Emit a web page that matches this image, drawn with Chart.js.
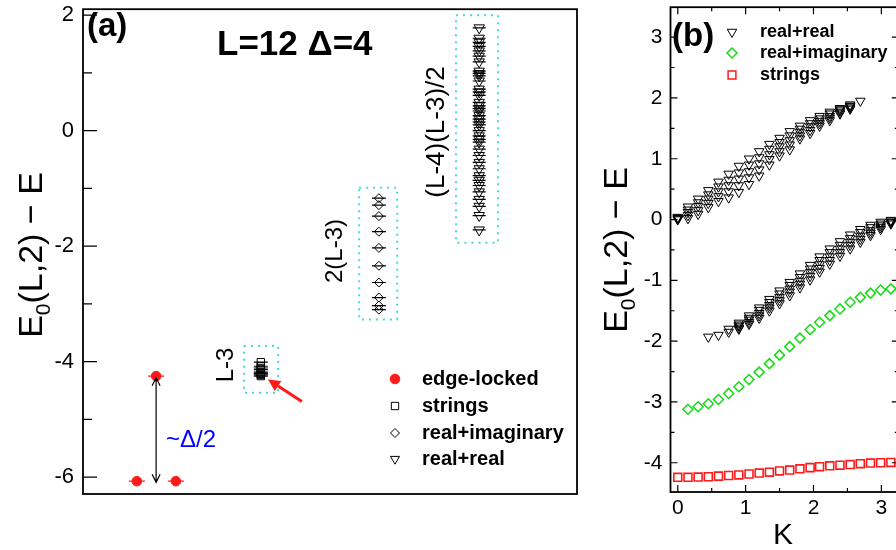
<!DOCTYPE html>
<html>
<head>
<meta charset="utf-8">
<title>E0(L,2) − E spectrum</title>
<script src="https://cdn.jsdelivr.net/npm/chart.js@4.4.1/dist/chart.umd.min.js"></script>
<style>
  html, body { margin:0; padding:0; background:#ffffff; overflow:hidden; width:896px; height:550px; position:relative; }
  canvas { position:absolute; top:0; }
  #ca { left:0; }
  #cb { left:600px; }
</style>
</head>
<body>
<canvas id="ca" width="600" height="550"></canvas>
<canvas id="cb" width="306" height="550"></canvas>
<script>
// ================= DATA =================
// Panel (a): L=12, Δ=4 — energies E0(L,2) − E grouped by family
const edgeLockedE = [-6.07, -4.25, -6.07];
const stringsE_a  = [-4.01, -4.08, -4.11, -4.14, -4.18, -4.20, -4.21, -4.23, -4.25];
const realImagE_a = [-1.17, -1.29, -1.48, -1.75, -2.03, -2.34, -2.63, -2.89, -3.03, -3.10];
const realRealE_a = [1.78, 1.60, 1.53, 1.46, 1.38, 1.29, 1.19, 1.03, 0.99, 0.95, 0.86, 0.72, 0.67, 0.61,
                     0.49, 0.43, 0.38, 0.34, 0.26, 0.20, 0.15, 0.10, 0.00, -0.09, -0.15, -0.20, -0.32,
                     -0.43, -0.55, -0.66, -0.78, -0.86, -0.95, -1.06, -1.19, -1.31, -1.47, -1.72];
const yTicksA = [2, 0, -2, -4, -6];
const yMinorA = [1, -1, -3, -5];

// Panel (b): momentum K and energies per family
const K = [0, 0.15, 0.30, 0.45, 0.60, 0.75, 0.90, 1.05, 1.20, 1.35, 1.50, 1.65, 1.80, 1.95, 2.09,
           2.24, 2.39, 2.54, 2.69, 2.84, 2.99, 3.14];
const stringsB = [-4.24, -4.24, -4.235, -4.23, -4.22, -4.21, -4.20, -4.185, -4.17, -4.155, -4.135,
                  -4.12, -4.10, -4.08, -4.065, -4.05, -4.04, -4.03, -4.015, -4.005, -4.0, -3.995];
const realImagB = [null, -3.12, -3.08, -3.03, -2.96, -2.86, -2.75, -2.63, -2.51, -2.37, -2.23, -2.09,
                   -1.95, -1.81, -1.69, -1.58, -1.47, -1.36, -1.28, -1.21, -1.16, -1.14];
// real+real: upper band (5 stacked levels) and lower band (5 stacked levels)
const rrUpper1 = [0.04, 0.21, 0.34, 0.48, 0.62, 0.75, 0.88, 1.00, 1.12, 1.24, 1.34, 1.45, 1.54, 1.63, 1.70, 1.77, 1.83, 1.89, 1.95];
const rrUpper2 = [0.03, 0.16, 0.28, 0.41, 0.54, 0.65, 0.77, 0.90, 1.02, 1.16, 1.27, 1.38, 1.49, 1.58, 1.66, 1.74, 1.81, 1.87];
const rrUpper3 = [0.02, 0.12, 0.22, 0.34, 0.46, 0.56, 0.67, 0.79, 0.92, 1.07, 1.20, 1.30, 1.44, 1.53, 1.62, 1.70, 1.79, 1.86];
const rrUpper4 = [0.01, 0.07, 0.15, 0.27, 0.38, 0.46, 0.56, 0.69, 0.82, 0.99, 1.12, 1.23, 1.38, 1.47, 1.58, 1.67, 1.76, 1.84];
const rrUpper5 = [0.00, 0.02, 0.09, 0.20, 0.30, 0.36, 0.45, 0.58, 0.72, 0.90, 1.05, 1.15, 1.33, 1.42, 1.54, 1.63, 1.74, 1.82];
const rrLower1 = [null, null, null, -1.93, -1.90, -1.80, -1.70, -1.58, -1.45, -1.31, -1.17, -1.03, -0.89, -0.75, -0.61, -0.48, -0.36, -0.25, -0.16, -0.09, -0.04, -0.01];
const rrLower2 = [null, null, null, null, null, null, -1.73, -1.62, -1.49, -1.36, -1.22, -1.08, -0.95, -0.81, -0.67, -0.54, -0.42, -0.31, -0.21, -0.13, -0.07, -0.02];
const rrLower3 = [null, null, null, null, null, null, -1.75, -1.65, -1.54, -1.41, -1.28, -1.14, -1.01, -0.87, -0.74, -0.61, -0.48, -0.37, -0.27, -0.18, -0.10, -0.04];
const rrLower4 = [null, null, null, null, null, null, -1.78, -1.69, -1.58, -1.45, -1.33, -1.19, -1.06, -0.93, -0.80, -0.67, -0.54, -0.42, -0.32, -0.22, -0.13, -0.05];
const rrLower5 = [null, null, null, null, null, -1.85, -1.80, -1.72, -1.62, -1.50, -1.38, -1.25, -1.12, -0.99, -0.86, -0.73, -0.60, -0.48, -0.37, -0.26, -0.16, -0.07];
const xTicksB = [0, 1, 2, 3];
const yTicksB = [-4, -3, -2, -1, 0, 1, 2, 3];
const xMinorB = [0.5, 1.5, 2.5];
const yMinorB = [-3.5, -2.5, -1.5, -0.5, 0.5, 1.5, 2.5];

// ================= LAYOUT / STYLE =================
const FONT = '"Liberation Sans", Arial, Helvetica, sans-serif';
const CYAN = 'rgb(64,224,208)';
const GREEN = '#16dc16';
const RED = '#ff1a1a';
// column placement in panel (a) (abstract x units 0..100)
const colX = { edge: [10.9, 14.8, 18.8], strings: 36.0, imag: 59.9, real: 80.2 };
const boxesA = [[32.6, 39.5, -3.73, -4.54], [55.9, 63.6, -0.99, -3.27], [75.5, 84.0, 2.0, -1.94]];

const col = (x, ys) => ys.map(y => ({ x, y }));
const pts = (xs, ys) => ys.map((y, i) => (y === null || y === undefined) ? null : { x: xs[i], y }).filter(p => p);
const rect = b => [{x:b[0],y:b[2]},{x:b[1],y:b[2]},{x:b[1],y:b[3]},{x:b[0],y:b[3]},{x:b[0],y:b[2]}];

function txt(ctx, s, x, y, o) {
  ctx.save();
  ctx.font = o.font; ctx.fillStyle = o.color || '#000';
  ctx.textAlign = o.align || 'left'; ctx.textBaseline = o.baseline || 'alphabetic';
  ctx.translate(x, y); if (o.rot) ctx.rotate(o.rot);
  ctx.fillText(s, 0, 0); ctx.restore();
}
function yTitle(ctx, cx, cy, size) {
  ctx.save(); ctx.translate(cx, cy); ctx.rotate(-Math.PI / 2);
  ctx.fillStyle = '#000'; ctx.textBaseline = 'middle'; ctx.textAlign = 'left';
  const big = size + 'px ' + FONT, small = Math.round(size * 0.62) + 'px ' + FONT;
  const rest = '(L,2) \u2212 E';
  ctx.font = big; const wE = ctx.measureText('E').width; const wR = ctx.measureText(rest).width;
  ctx.font = small; const w0 = ctx.measureText('0').width;
  let x = -(wE + w0 + wR) / 2;
  ctx.font = big; ctx.fillText('E', x, 0); x += wE;
  ctx.font = small; ctx.fillText('0', x, size * 0.33); x += w0;
  ctx.font = big; ctx.fillText(rest, x, 0);
  ctx.restore();
}
function tickMarks(ctx, a, scale, side, vals, len) {
  ctx.beginPath();
  vals.forEach(v => {
    const p = scale.getPixelForValue(v);
    if (side === 'left') { ctx.moveTo(a.left, p); ctx.lineTo(a.left + len, p); }
    if (side === 'right') { ctx.moveTo(a.right, p); ctx.lineTo(a.right - len, p); }
    if (side === 'bottom') { ctx.moveTo(p, a.bottom); ctx.lineTo(p, a.bottom - len); }
    if (side === 'top') { ctx.moveTo(p, a.top); ctx.lineTo(p, a.top + len); }
  });
  ctx.stroke();
}
function marker(ctx, style, x, y, r, color, fill, rot, lw) {
  ctx.save();
  ctx.strokeStyle = color; ctx.fillStyle = fill ? color : 'rgba(0,0,0,0)'; ctx.lineWidth = lw || 1;
  Chart.helpers.drawPoint(ctx, { pointStyle: style, rotation: rot || 0, radius: r, borderWidth: lw || 1 }, x, y);
  ctx.restore();
}

// ================= PANEL (a) =================
const arrowsA = { gap: { x: 14.8, y1: -4.28, y2: -6.09 }, pointer: { x1: 44.3, y1: -4.69, x2: 37.45, y2: -4.31 } };
const decoA = {
  id: 'decoA',
  afterDraw(chart) {
    const { ctx, chartArea: a, scales: { x, y } } = chart;
    ctx.save();
    ctx.strokeStyle = '#000'; ctx.lineWidth = 1.8;
    ctx.strokeRect(a.left, a.top, a.right - a.left, a.bottom - a.top);
    ctx.lineWidth = 1.2;
    tickMarks(ctx, a, y, 'left', yTicksA, 14);
    tickMarks(ctx, a, y, 'left', yMinorA, 9);
    // double-headed gap arrow
    const gx = x.getPixelForValue(arrowsA.gap.x), gy1 = y.getPixelForValue(arrowsA.gap.y1), gy2 = y.getPixelForValue(arrowsA.gap.y2);
    ctx.lineWidth = 1.2; ctx.strokeStyle = '#000';
    ctx.beginPath(); ctx.moveTo(gx, gy1); ctx.lineTo(gx, gy2);
    ctx.moveTo(gx - 4, gy1 + 8); ctx.lineTo(gx, gy1); ctx.lineTo(gx + 4, gy1 + 8);
    ctx.moveTo(gx - 4, gy2 - 8); ctx.lineTo(gx, gy2); ctx.lineTo(gx + 4, gy2 - 8);
    ctx.stroke();
    // red pointer arrow
    const p = arrowsA.pointer;
    const tx = x.getPixelForValue(p.x2), ty = y.getPixelForValue(p.y2);
    const sx = x.getPixelForValue(p.x1), sy = y.getPixelForValue(p.y1);
    const dx = tx - sx, dy = ty - sy, d = Math.hypot(dx, dy), ux = dx / d, uy = dy / d;
    const bx = tx - ux * 12, by = ty - uy * 12;
    ctx.strokeStyle = RED; ctx.fillStyle = RED; ctx.lineWidth = 3;
    ctx.beginPath(); ctx.moveTo(sx, sy); ctx.lineTo(bx, by); ctx.stroke();
    ctx.beginPath(); ctx.moveTo(tx, ty); ctx.lineTo(bx - uy * 6, by + ux * 6); ctx.lineTo(bx + uy * 6, by - ux * 6); ctx.closePath(); ctx.fill();
    ctx.restore();
    // texts
    txt(ctx, '(a)', 87, 36, { font: 'bold 33px ' + FONT });
    txt(ctx, 'L=12 \u0394=4', 217, 55, { font: 'bold 35px ' + FONT });
    txt(ctx, 'L-3', 226, 365, { font: '24px ' + FONT, align: 'center', baseline: 'middle', rot: -Math.PI / 2 });
    txt(ctx, '2(L-3)', 335, 251, { font: '24px ' + FONT, align: 'center', baseline: 'middle', rot: -Math.PI / 2 });
    txt(ctx, '(L-4)(L-3)/2', 437, 132, { font: '26px ' + FONT, align: 'center', baseline: 'middle', rot: -Math.PI / 2 });
    txt(ctx, '~\u0394/2', 166, 440, { font: '24px ' + FONT, color: '#0000ff', baseline: 'middle' });
    yTitle(ctx, 33, 255, 34);
    // legend
    const lg = [['edge-locked', 'circle', 4.8, RED, true, 0], ['strings', 'rect', 5.2, '#000', false, 0],
                ['real+imaginary', 'rectRot', 4.5, '#000', false, 0], ['real+real', 'triangle', 5.2, '#000', false, 180]];
    const rows = [379, 406, 433, 459];
    lg.forEach((l, i) => {
      marker(ctx, l[1], 395, rows[i], l[2], l[3], l[4], l[5], 1);
      txt(ctx, l[0], 422, rows[i], { font: 'bold 20px ' + FONT, baseline: 'middle' });
    });
  }
};

const openPt = (color, style, r, rot, lw) => ({ showLine: false, pointStyle: style, pointRadius: r, pointHoverRadius: r,
  pointRotation: rot || 0, pointBorderColor: color, pointBackgroundColor: 'rgba(0,0,0,0)', pointBorderWidth: lw || 1 });
const dashPt = (color, r) => ({ showLine: false, pointStyle: 'line', pointRadius: r, pointHoverRadius: r,
  pointBorderColor: color, pointBorderWidth: 1.2 });
const boxDs = b => ({ data: rect(b), showLine: true, borderColor: CYAN, borderWidth: 2, borderDash: [2, 5],
  pointRadius: 0, fill: false, tension: 0 });

new Chart(document.getElementById('ca'), {
  type: 'scatter',
  data: {
    datasets: [
      Object.assign({ label: 'edge-locked', data: edgeLockedE.map((e, i) => ({ x: colX.edge[i], y: e })) },
        { showLine: false, pointStyle: 'circle', pointRadius: 4.8, pointBackgroundColor: RED, pointBorderColor: RED }),
      Object.assign({ data: edgeLockedE.map((e, i) => ({ x: colX.edge[i], y: e })) }, dashPt(RED, 8)),
      Object.assign({ label: 'strings', data: col(colX.strings, stringsE_a) }, openPt('#000', 'rect', 5.2)),
      Object.assign({ data: col(colX.strings, stringsE_a) }, dashPt('#000', 7)),
      Object.assign({ label: 'real+imaginary', data: col(colX.imag, realImagE_a) }, openPt('#000', 'rectRot', 4.5)),
      Object.assign({ data: col(colX.imag, realImagE_a) }, dashPt('#000', 7)),
      Object.assign({ label: 'real+real', data: col(colX.real, realRealE_a) }, openPt('#000', 'triangle', 6, 180)),
      Object.assign({ data: col(colX.real, realRealE_a) }, dashPt('#000', 6.5)),
      boxDs(boxesA[0]), boxDs(boxesA[1]), boxDs(boxesA[2])
    ]
  },
  options: {
    responsive: false, animation: false, devicePixelRatio: 1,
    layout: { padding: { left: 0, right: 23, top: 6, bottom: 56 } },
    plugins: { legend: { display: false }, tooltip: { enabled: false } },
    scales: {
      x: { type: 'linear', min: 0, max: 100, display: false },
      y: {
        type: 'linear', min: -6.292, max: 2.103,
        grid: { display: false, drawTicks: false }, border: { display: false },
        afterBuildTicks: s => { s.ticks = yTicksA.map(v => ({ value: v })); },
        afterFit: s => { s.width = 83; s.paddingTop = 0; s.paddingBottom = 0; },
        ticks: { font: { family: FONT, size: 22 }, color: '#000', padding: 9, callback: v => String(v) }
      }
    }
  },
  plugins: [decoA]
});

// ================= PANEL (b) =================
const decoB = {
  id: 'decoB',
  afterDraw(chart) {
    const { ctx, chartArea: a, scales: { x, y } } = chart;
    ctx.save();
    ctx.strokeStyle = '#000'; ctx.lineWidth = 1.8;
    ctx.strokeRect(a.left, a.top, a.right - a.left, a.bottom - a.top);
    ctx.lineWidth = 1.2;
    tickMarks(ctx, a, y, 'left', yTicksB, 7); tickMarks(ctx, a, y, 'left', yMinorB, 4);
    tickMarks(ctx, a, y, 'right', yTicksB, 7); tickMarks(ctx, a, y, 'right', yMinorB, 4);
    tickMarks(ctx, a, x, 'bottom', xTicksB, 7); tickMarks(ctx, a, x, 'bottom', xMinorB, 4);
    tickMarks(ctx, a, x, 'top', xTicksB, 7); tickMarks(ctx, a, x, 'top', xMinorB, 4);
    ctx.restore();
    txt(ctx, '(b)', 72, 46, { font: 'bold 33px ' + FONT });
    const lg = [['real+real', 'triangle', 5.5, '#000', 180, 1], ['real+imaginary', 'rectRot', 5, GREEN, 0, 1.5],
                ['strings', 'rect', 5.5, RED, 0, 1.5]];
    const rows = [32, 53, 75];
    lg.forEach((l, i) => {
      marker(ctx, l[1], 132, rows[i], l[2], l[3], false, l[4], l[5]);
      txt(ctx, l[0], 160, rows[i], { font: 'bold 18px ' + FONT, baseline: 'middle' });
    });
    yTitle(ctx, 18, 250, 34);
    txt(ctx, 'K', 183, 536, { font: '30px ' + FONT, align: 'center', baseline: 'middle' });
  }
};

const triB = rows => rows.map(r => Object.assign({ label: 'real+real', data: pts(K, r) }, openPt('#000', 'triangle', 5.5, 180, 1)));

new Chart(document.getElementById('cb'), {
  type: 'scatter',
  data: {
    datasets: [
      Object.assign({ label: 'strings', data: pts(K, stringsB) }, openPt(RED, 'rect', 5.6, 0, 1.6)),
      Object.assign({ label: 'real+imaginary', data: pts(K, realImagB) }, openPt(GREEN, 'rectRot', 5, 0, 1.5)),
      ...triB([rrUpper1, rrUpper2, rrUpper3, rrUpper4, rrUpper5, rrLower1, rrLower2, rrLower3, rrLower4, rrLower5])
    ]
  },
  options: {
    responsive: false, animation: false, devicePixelRatio: 1,
    layout: { padding: { left: 0, right: 0, top: 6, bottom: 0 } },
    plugins: { legend: { display: false }, tooltip: { enabled: false } },
    scales: {
      x: {
        type: 'linear', min: -0.107, max: 3.257,
        grid: { display: false, drawTicks: false }, border: { display: false },
        afterBuildTicks: s => { s.ticks = xTicksB.map(v => ({ value: v })); },
        afterFit: s => { s.height = 58; s.paddingLeft = 0; s.paddingRight = 0; },
        ticks: { font: { family: FONT, size: 21 }, color: '#000', padding: 4, maxRotation: 0, autoSkip: false, callback: v => String(v) }
      },
      y: {
        type: 'linear', min: -4.481, max: 3.492,
        grid: { display: false, drawTicks: false }, border: { display: false },
        afterBuildTicks: s => { s.ticks = yTicksB.map(v => ({ value: v })); },
        afterFit: s => { s.width = 70.5; s.paddingTop = 0; s.paddingBottom = 0; },
        ticks: { font: { family: FONT, size: 21 }, color: '#000', padding: 8, callback: v => String(v) }
      }
    }
  },
  plugins: [decoB]
});
</script>
</body>
</html>
